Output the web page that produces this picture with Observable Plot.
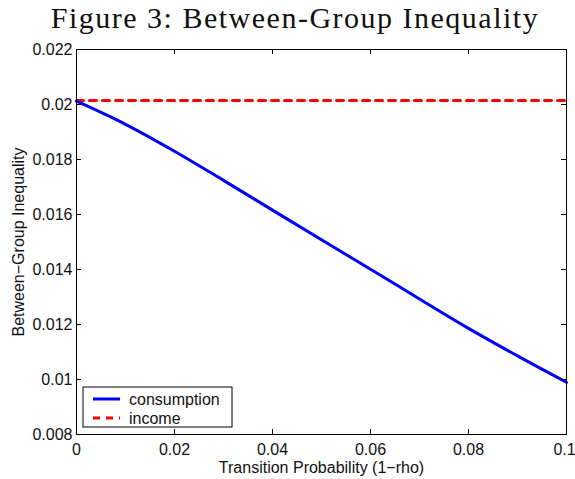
<!DOCTYPE html>
<html>
<head>
<meta charset="utf-8">
<script src="https://cdn.jsdelivr.net/npm/d3@7"></script>
<script src="https://cdn.jsdelivr.net/npm/@observablehq/plot@0.6"></script>
<style>
  html, body { margin: 0; padding: 0; background: #fff; }
  #wrap { width: 575px; height: 479px; position: relative; overflow: hidden; }
  #title { height: 38px; width: 575px; font-family: "Liberation Serif", "DejaVu Serif", serif; font-size: 30px; letter-spacing: 1.5px; text-align: center; line-height: 36px; padding-left: 15px; box-sizing: border-box; color: #111; white-space: nowrap; }
</style>
</head>
<body>
<div id="wrap">
  <div id="title">Figure 3: Between-Group Inequality</div>
  <div id="chart"></div>
</div>
<script>
// ---- data ----
const transitionProb = [0, 0.01, 0.02, 0.03, 0.04, 0.05, 0.06, 0.07, 0.08, 0.09, 0.10];
const consumption = [0.02012, 0.01928, 0.01830, 0.01724, 0.01616, 0.01508, 0.01401, 0.01293, 0.01186, 0.01086, 0.00990];
const incomeX = [0, 0.10];
const income = [0.02015, 0.02015];
const xTicks = [0, 0.02, 0.04, 0.06, 0.08, 0.1];
const yTicks = [0.008, 0.01, 0.012, 0.014, 0.016, 0.018, 0.02, 0.022];
const seriesNames = ["consumption", "income"];
const seriesColors = ["#0000ff", "#ff0000"];

const consData = transitionProb.map((x, i) => ({x, y: consumption[i]}));
const incData = incomeX.map((x, i) => ({x, y: income[i]}));

const W = 575, H = 441;
const mL = 76, mR = 9, mT = 11, mB = 45;
const plotW = W - mL - mR, plotH = H - mT - mB;
const font = "'Liberation Sans', Arial, Helvetica, sans-serif";
const fmt = d => String(+d.toFixed(6));
const lastX = xTicks[xTicks.length - 1];

const chart = Plot.plot({
  width: W, height: H,
  marginLeft: mL, marginRight: mR, marginTop: mT, marginBottom: mB,
  style: {fontFamily: font, fontSize: "16px", background: "white", color: "black", overflow: "visible"},
  x: {domain: [0, 0.1], ticks: xTicks},
  y: {domain: [0.008, 0.022], ticks: yTicks},
  marks: [
    Plot.line(incData, {x: "x", y: "y", stroke: seriesColors[1], strokeWidth: 3, strokeDasharray: "7,6"}),
    Plot.line(consData, {x: "x", y: "y", stroke: seriesColors[0], strokeWidth: 3, curve: "monotone-x"}),
    Plot.frame({stroke: "black", strokeWidth: 1}),
    Plot.tickY(yTicks, {y: d => d, stroke: "black", insetRight: plotW - 5}),
    Plot.tickY(yTicks, {y: d => d, stroke: "black", insetLeft: plotW - 5}),
    Plot.tickX(xTicks, {x: d => d, stroke: "black", insetTop: plotH - 5}),
    Plot.tickX(xTicks, {x: d => d, stroke: "black", insetBottom: plotH - 5}),
    Plot.axisX({ticks: xTicks.slice(0, -1), tickSize: 0, tickPadding: 9, tickFormat: fmt, label: null, fontSize: 16, fill: "#111"}),
    Plot.axisX({ticks: [lastX], tickSize: 0, tickPadding: 9, tickFormat: fmt, label: null, fontSize: 16, fill: "#111", dx: -2}),
    Plot.axisY({ticks: yTicks, tickSize: 0, tickPadding: 4, tickFormat: fmt, label: null, fontSize: 16, fill: "#111"}),
    Plot.text(["Transition Probability (1\u2212rho)"], {frameAnchor: "bottom", dy: 33, fontSize: 16, fill: "#111", lineAnchor: "middle"}),
    Plot.text(["Between\u2212Group Inequality"], {frameAnchor: "left", dx: -58, rotate: -90, fontSize: 16, fill: "#111", lineAnchor: "middle", textAnchor: "middle"})
  ]
});
document.getElementById("chart").appendChild(chart);

// legend (MATLAB-style box in lower-left corner of axes)
const svg = d3.select(chart);
const bx = mL + 7, bw = 149, bh = 40, by = H - mB - 7 - bh;
const lg = svg.append("g").attr("font-family", font).attr("font-size", 16).attr("text-anchor", "start");
lg.append("rect").attr("x", bx).attr("y", by).attr("width", bw).attr("height", bh)
  .attr("fill", "white").attr("stroke", "black").attr("stroke-width", 1);
seriesNames.forEach((name, i) => {
  const yy = by + 12 + i * 19;
  lg.append("line").attr("x1", bx + 10).attr("x2", bx + 37).attr("y1", yy).attr("y2", yy)
    .attr("stroke", seriesColors[i]).attr("stroke-width", 3)
    .attr("stroke-dasharray", i === 1 ? "7,6" : null);
  lg.append("text").attr("x", bx + 46).attr("y", yy).attr("dy", "0.35em")
    .attr("text-anchor", "start").attr("fill", "#111").text(name);
});
</script>
</body>
</html>
